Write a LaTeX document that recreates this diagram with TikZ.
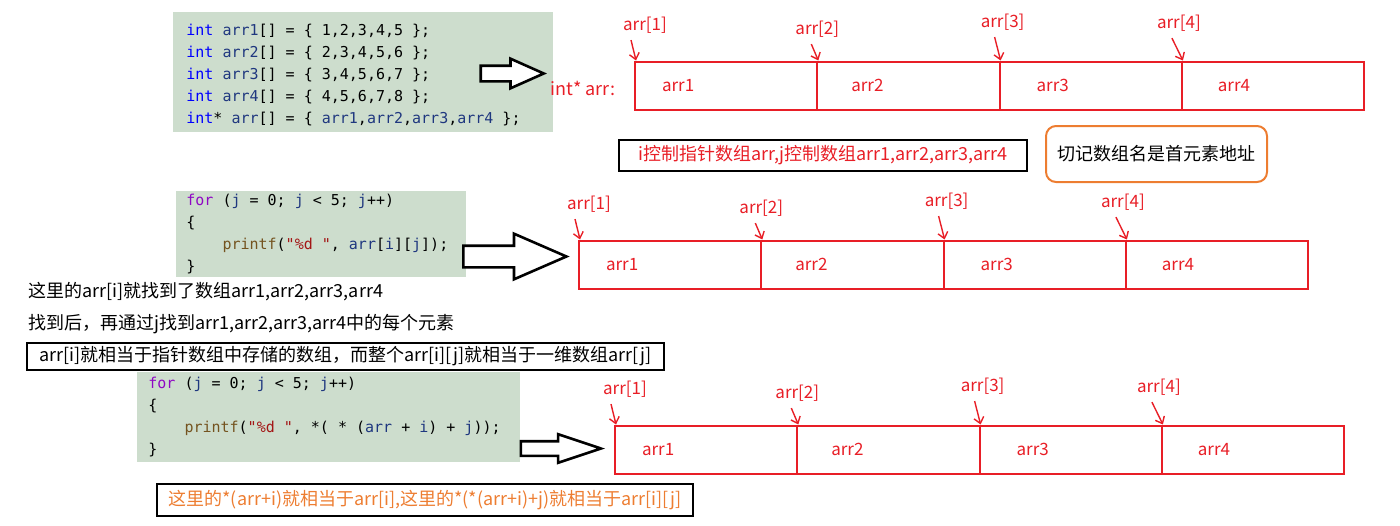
\documentclass[tikz,border=0pt]{standalone}
\usepackage{fontspec}
\setmainfont{Noto Sans CJK SC}
\setmonofont{DejaVu Sans Mono}
\usetikzlibrary{arrows.meta,positioning,shapes.arrows}

\definecolor{arrred}{RGB}{232,30,38}
\definecolor{codebg}{RGB}{205,221,205}
\definecolor{kwblue}{RGB}{0,0,255}
\definecolor{kwpurple}{RGB}{143,8,196}
\definecolor{idnavy}{RGB}{31,55,127}
\definecolor{fnbrown}{RGB}{116,83,31}
\definecolor{strred}{RGB}{163,21,21}
\definecolor{noteorange}{RGB}{237,125,49}

% syntax colours for the code snippets
\newcommand{\ckw}[1]{\textcolor{kwblue}{#1}}
\newcommand{\cctl}[1]{\textcolor{kwpurple}{#1}}
\newcommand{\cid}[1]{\textcolor{idnavy}{#1}}
\newcommand{\cfn}[1]{\textcolor{fnbrown}{#1}}
\newcommand{\cstr}[1]{\textcolor{strred}{#1}}

\begin{document}
\begin{tikzpicture}[x=0.5pt, y=-0.5pt,
    codebox/.style={fill=codebg, inner sep=0pt, anchor=north west},
    code/.style={anchor=base west, inner sep=0pt, font=\fontsize{7.5}{11}\ttfamily\frenchspacing},
    bigarrow/.style={single arrow, draw, line width=1.3pt, inner xsep=0pt, fill=white},
    cell/.style={draw=arrred, line width=1pt, anchor=west, minimum width=91.15pt, minimum height=24pt,
      align=left, text=arrred, font=\fontsize{8.5}{10}\selectfont},
    ptr/.style={text=arrred, inner sep=1pt, font=\fontsize{8.5}{10}\selectfont},
    ptrarrow/.style={arrred, line width=0.7pt, -{Straight Barb[length=3pt,width=5pt]}},
    note/.style={inner sep=1pt, font=\fontsize{9}{11}\selectfont},
    framed/.style={note, draw, line width=1pt}
  ]
    \useasboundingbox (0,0) rectangle (1400,525);

    % code snippets
    \node[codebox, minimum width=190pt, minimum height=60pt] (bg1) at (173,12) {};
    \node[codebox, minimum width=145pt, minimum height=43pt] (bg2) at (176,191) {};
    \node[codebox, minimum width=191.5pt, minimum height=45pt] (bg3) at (137,372) {};

    \foreach \ln [count=\k] in {
        {\ckw{int} \cid{arr1}[] = \{ 1,2,3,4,5 \};},
        {\ckw{int} \cid{arr2}[] = \{ 2,3,4,5,6 \};},
        {\ckw{int} \cid{arr3}[] = \{ 3,4,5,6,7 \};},
        {\ckw{int} \cid{arr4}[] = \{ 4,5,6,7,8 \};},
        {\ckw{int}* \cid{arr}[] = \{ \cid{arr1},\cid{arr2},\cid{arr3},\cid{arr4} \};}} {
      \node[code] (ca\k) at (186, {35+22*(\k-1)}) {\ln};
    }
    \foreach \ln [count=\k] in {
        {\cctl{for} (\cid{j} = 0; \cid{j} < 5; \cid{j}++)},
        {\{},
        {\phantom{0000}\cfn{printf}(\cstr{"\%d "}, \cid{arr}[\cid{i}][\cid{j}]);},
        {\}}} {
      \node[code] (cb\k) at (186, {205+22*(\k-1)}) {\ln};
    }
    \foreach \ln [count=\k] in {
        {\cctl{for} (\cid{j} = 0; \cid{j} < 5; \cid{j}++)},
        {\{},
        {\phantom{0000}\cfn{printf}(\cstr{"\%d "}, *( * (\cid{arr} + \cid{i}) + \cid{j}));},
        {\}}} {
      \node[code] (cc\k) at (148, {388+22*(\k-1)}) {\ln};
    }

    % hollow arrows
    \node[bigarrow, inner ysep=3.25pt, minimum height=31.5pt, minimum width=13.5pt,
      single arrow head extend=3.5pt, single arrow tip angle=48] (ar1) at (503.5,73.5) {};
    \node[bigarrow, inner ysep=4.75pt, minimum height=51.5pt, minimum width=21.5pt,
      single arrow head extend=6pt, single arrow tip angle=47] (ar2) at (502.5,256.5) {};
    \node[bigarrow, inner ysep=3pt, minimum height=40pt, minimum width=13.5pt,
      single arrow head extend=3.5pt, single arrow tip angle=37] (ar3) at (550,448.5) {};

    % pointer array drawn three times
    \node[ptr, font=\fontsize{9}{11}\selectfont] (intarr) at (583,88) {int* arr:};
    \foreach \row/\xl/\yc in {1/634/85.5, 2/578/264.5, 3/614/449.5} {
      \foreach \col/\dx/\dy/\sx/\tx in {1/11/-36/-7/0, 2/1/-32/-3/3.5, 3/4/-39/-4/5, 4/-2/-38/-3.5/4.5} {
        \node[cell, inner xsep=13.5pt+\tx pt, text width=64.15pt-2*\tx pt] (r\row c\col)
          at ({\xl+182.3*(\col-1)}, \yc) {arr\col};
        \node[ptr] (r\row p\col) at ({\xl+182.3*(\col-1)+\dx}, {\yc-24+\dy}) {arr[\col]};
        \draw[ptrarrow] ([xshift=\sx pt, yshift=-2pt]r\row p\col.south) -- ([xshift=1pt]r\row c\col.north west);
      }
    }

    % remarks
    \node[framed, text=arrred, minimum width=204pt, minimum height=15.5pt] (tip) at (823,155.5)
      {i控制指针数组arr,j控制数组arr1,arr2,arr3,arr4};
    \node[note, draw=noteorange, line width=1pt, rounded corners=5pt,
      minimum width=110.5pt, minimum height=28pt] (memo) at (1156.5,154) {切记数组名是首元素地址};

    \node[note, anchor=west] (n1) at (26,292) {这里的arr[i]就找到了数组arr1,arr2,arr3,arr4};
    \node[note, anchor=west] (n2) at (26,324) {找到后，再通过j找到arr1,arr2,arr3,arr4中的每个元素};
    \node[framed, minimum width=318.5pt, minimum height=13.5pt] (n3) at (345.5,356.5)
      {arr[i]就相当于指针数组中存储的数组，而整个arr[i][j]就相当于一维数组arr[j]};
    \node[framed, text=noteorange, minimum width=268pt, minimum height=16pt] (n4) at (425,500)
      {这里的*(arr+i)就相当于arr[i],这里的*(*(arr+i)+j)就相当于arr[i][j]};
  \end{tikzpicture}
\end{document}
